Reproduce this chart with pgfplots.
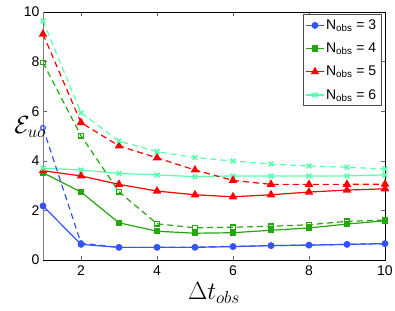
\documentclass[border=0pt]{standalone}
\usepackage{pgfplots}
\pgfplotsset{compat=1.18}
\usepackage{fontspec}
\setmainfont{Liberation Sans}
\definecolor{cb}{rgb}{0.2,0.33,1}
\definecolor{cg}{rgb}{0.15,0.65,0.05}
\definecolor{cr}{rgb}{1,0,0}
\definecolor{cc}{rgb}{0.35,1,0.68}
\begin{document}
\begin{tikzpicture}
\begin{axis}[
  at={(0,0)}, anchor=south west,
  scale only axis, width=342pt, height=248pt,
  xmin=1, xmax=10, ymin=0, ymax=10,
  xtick={2,4,6,8,10}, ytick={0,2,4,6,8,10},
  tick align=inside, tick pos=both,
  major tick length=4pt,
  tick style={black!60, line width=0.5pt},
  ticklabel style={font=\fontsize{14}{14}\selectfont},
  xticklabel style={yshift=-2pt},
  /pgf/number format/assume math mode=true,
  axis line style={line width=0.8pt},
  xlabel={$\Delta t_{obs}$},
  xlabel style={font=\fontsize{26}{26}\selectfont, at={(axis description cs:0.5,0)}, anchor=north, yshift=-19pt},
  ylabel={$\mathcal{E}_{uo}$},
  ylabel style={rotate=-90, font=\fontsize{26}{26}\selectfont, at={(axis description cs:0,0.535)}, anchor=east, inner sep=0pt, xshift=3pt},
  legend style={at={(axis description cs:0.99,0.99)}, anchor=north east, font=\fontsize{14}{14}\selectfont, draw=black!70, line width=0.6pt, inner xsep=3pt, inner ysep=3pt, row sep=8pt, legend cell align=left},
  every axis plot/.append style={line width=1.2pt},
]
\addplot[cb, mark=*, mark size=2.8pt] coordinates {(1,2.18)(2,0.63)(3,0.51)(4,0.51)(5,0.51)(6,0.54)(7,0.58)(8,0.60)(9,0.63)(10,0.66)};
\addlegendentry{N\textsubscript{obs} = 3}
\addplot[cg, mark=square*, mark size=2.6pt] coordinates {(1,3.52)(2,2.74)(3,1.50)(4,1.16)(5,1.08)(6,1.10)(7,1.20)(8,1.29)(9,1.45)(10,1.58)};
\addlegendentry{N\textsubscript{obs} = 4}
\addplot[cr, mark=triangle*, mark size=3.8pt] coordinates {(1,3.60)(2,3.39)(3,3.05)(4,2.78)(5,2.63)(6,2.55)(7,2.63)(8,2.74)(9,2.82)(10,2.87)};
\addlegendentry{N\textsubscript{obs} = 5}
\addplot[cc, mark=x, mark size=3.3pt, mark options={line width=1.6pt}] coordinates {(1,3.70)(2,3.63)(3,3.49)(4,3.43)(5,3.36)(6,3.39)(7,3.39)(8,3.39)(9,3.39)(10,3.43)};
\addlegendentry{N\textsubscript{obs} = 6}
\addplot[cb, dash pattern=on 6pt off 4pt, mark=o, mark size=2.4pt, mark options={solid}, forget plot] coordinates {(1,5.33)(2,0.68)(3,0.51)(4,0.51)(5,0.52)(6,0.55)(7,0.58)(8,0.60)(9,0.63)(10,0.66)};
\addplot[cg, dash pattern=on 6pt off 4pt, mark=square, mark size=2.3pt, mark options={solid}, forget plot] coordinates {(1,7.96)(2,5.01)(3,2.75)(4,1.46)(5,1.30)(6,1.32)(7,1.36)(8,1.42)(9,1.56)(10,1.61)};
\addplot[cr, dash pattern=on 6pt off 4pt, mark=triangle*, mark size=3.8pt, mark options={solid}, forget plot] coordinates {(1,9.11)(2,5.54)(3,4.60)(4,4.12)(5,3.63)(6,3.21)(7,3.05)(8,3.05)(9,3.05)(10,3.06)};
\addplot[cc, dash pattern=on 6pt off 4pt, mark=x, mark size=3.3pt, mark options={solid, line width=1.6pt}, forget plot] coordinates {(1,9.64)(2,5.94)(3,4.80)(4,4.37)(5,4.13)(6,3.99)(7,3.87)(8,3.79)(9,3.74)(10,3.67)};
\draw[gray, line width=2pt] (rel axis cs:0,0) -- (rel axis cs:0,1);
\end{axis}
\pgfresetboundingbox
\path[use as bounding box] (-43pt,-50pt) rectangle (352pt,260pt);
\end{tikzpicture}
\end{document}
